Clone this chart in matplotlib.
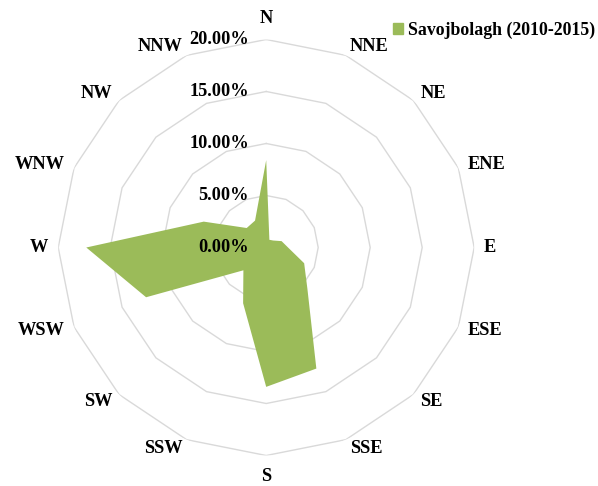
import numpy as np
import matplotlib
matplotlib.use('Agg')
from matplotlib import pyplot as plt
from matplotlib.patches import Patch

# wind direction frequency, percent
directions = ['N', 'NNE', 'NE', 'ENE', 'E', 'ESE', 'SE', 'SSE',
              'S', 'SSW', 'SW', 'WSW', 'W', 'WNW', 'NW', 'NNW']
freq = [8.4, 0.8, 0.95, 1.6, 2.1, 3.95, 5.6, 12.6,
        13.4, 5.8, 3.1, 12.5, 17.3, 6.5, 2.65, 2.8]
ring_levels = [5, 10, 15, 20]
ring_labels = ['0.00%', '5.00%', '10.00%', '15.00%', '20.00%']
series_name = 'Savojbolagh (2010-2015)'

green = '#9BBB59'
grid_col = '#D9D9D9'
font = dict(family='Liberation Serif', weight='bold', size=13.2, color='black')

fig = plt.figure(figsize=(5.98, 4.86), dpi=100)
ax = fig.add_axes([58.2 / 598, 30.5 / 486, 416 / 598, 416 / 486], projection='polar')
ax.set_theta_zero_location('N')
ax.set_theta_direction(-1)
ax.set_ylim(0, 20)
ax.grid(False)
ax.spines['polar'].set_visible(False)
ax.set_xticks([])
ax.set_yticks([])

theta = np.linspace(0, 2 * np.pi, len(directions), endpoint=False)
theta_c = np.append(theta, theta[0])

# polygon gridlines
for lv in ring_levels:
    ax.plot(theta_c, [lv] * len(theta_c), color=grid_col, lw=1.0, zorder=1)

vals = np.append(freq, freq[0])
ax.fill(theta_c, vals, color=green, lw=0, zorder=2)

# radial tick labels along N axis
for i, lab in enumerate(ring_labels):
    ax.annotate(lab, xy=(0, i * 5), xytext=(-12.5, 0), textcoords='offset points',
                ha='right', va='center', zorder=3, **font)

# direction labels
for t, d in zip(theta, directions):
    s = np.sin(t)
    if abs(s) < 0.1:
        ax.text(t, 22.05, d, ha='center', va='center', **font)
    else:
        ax.text(t, 20.95, d, ha='left' if s > 0 else 'right', va='center', **font)

leg = fig.legend(handles=[Patch(color=green, label=series_name)],
                 loc='center left', bbox_to_anchor=(393 / 598, 1 - 30 / 486),
                 frameon=False, handlelength=0.55, handleheight=0.55,
                 handletextpad=0.3, borderaxespad=0, borderpad=0,
                 prop=dict(family='Liberation Serif', weight='bold', size=12.8))

fig.savefig('out.png', dpi=100)
